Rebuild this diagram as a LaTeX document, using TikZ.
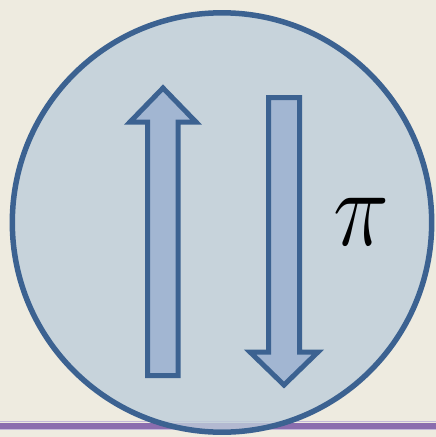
\documentclass[tikz,border=0pt]{standalone}
\usepackage{amsmath, amssymb}
\usepackage{xcolor}
\usepackage{tikz}
\usetikzlibrary{arrows.meta, positioning}

\definecolor{paper}{HTML}{EEEBE0}
\definecolor{rim}{HTML}{3C6291}
\definecolor{discfill}{RGB}{190,205,218}
\definecolor{arrowfill}{HTML}{A2B6D2}
\definecolor{band}{HTML}{8B6DAE}
\definecolor{bandlight}{HTML}{C4B8D8}

\begin{document}
\begin{tikzpicture}[
    x=1pt, y=-1pt,
    disc/.style={draw=rim, line width=5.5pt, fill=discfill, fill opacity=0.8},
    spin/.style={draw=rim, line width=5pt, fill=arrowfill, line join=miter}
  ]
  % Background
  \fill[paper] (0,0) rectangle (436,437);
  \useasboundingbox (0,0) rectangle (436,437);

  % Rule at the bottom
  \draw[bandlight, line width=1pt] (0,421.5) -- (436,421.5);
  \draw[band, line width=6pt] (0,425.7) -- (436,425.7);
  \draw[bandlight, line width=1pt] (0,429.6) -- (436,429.6);

  % Disc
  \draw[disc] (222,222.5) circle (209.7);

  % Spin up
  \draw[spin] (147.5,375.5) -- (147.5,122) -- (130,122) -- (163,88)
    -- (196,122) -- (178,122) -- (178,375.5) -- cycle;

  % Spin down
  \draw[spin] (268.5,97.5) -- (299.5,97.5) -- (299.5,352) -- (318,352)
    -- (284,385) -- (250,352) -- (268.5,352) -- cycle;

  % Label
  \node[inner sep=0pt, xscale=3.8, yscale=4.4, font=\Huge] (pi) at (361.5,221.5) {$\pi$};
\end{tikzpicture}
\end{document}
